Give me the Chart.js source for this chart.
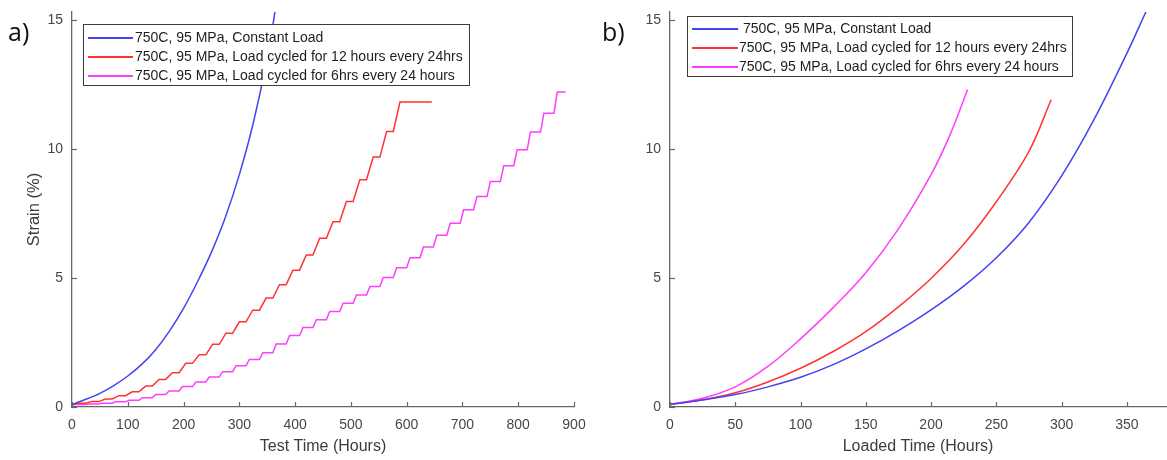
<!DOCTYPE html>
<html>
<head>
<meta charset="utf-8">
<script src="https://cdn.jsdelivr.net/npm/chart.js@4.4.1/dist/chart.umd.min.js"></script>
<style>
html,body{margin:0;padding:0;background:#fff;width:1167px;height:460px;overflow:hidden;font-family:"Liberation Sans",Arial,sans-serif;}
.wrap{position:absolute;top:0;height:460px;}
.panel{position:absolute;font-family:"Open Sans",sans-serif;font-size:25px;line-height:25px;color:#111;}
.legend{position:absolute;background:#fff;border:1px solid #3c3c3c;box-sizing:border-box;}
.row{position:absolute;left:0;height:19px;line-height:19px;white-space:pre;font-size:14px;color:#1e1e1e;}
.ln{position:absolute;top:9px;height:2px;}
.tx{position:absolute;top:0;}
</style>
</head>
<body>
<div class="wrap" style="left:0;width:600px;"><canvas id="chartA" width="600" height="460"></canvas></div>
<div class="wrap" style="left:600px;width:567px;"><canvas id="chartB" width="567" height="460"></canvas></div>
<div class="panel" style="left:8px;top:19px;">a)</div>
<div class="panel" style="left:602px;top:19px;">b)</div>
<div id="legA" class="legend" style="left:83px;top:24px;width:387px;height:62px;"></div>
<div id="legB" class="legend" style="left:687px;top:16px;width:386px;height:61px;"></div>
<script>
// ---------- DATA ----------
const seriesLabels = [
  "750C, 95 MPa, Constant Load",
  "750C, 95 MPa, Load cycled for 12 hours every 24hrs",
  "750C, 95 MPa, Load cycled for 6hrs every 24 hours"
];
const seriesColors = ["#4343f4", "#ff3333", "#ff3dff"];

const xTitleA = "Test Time (Hours)";
const xTitleB = "Loaded Time (Hours)";
const yTitle = "Strain (%)";
const yTicksShown = [0, 5, 10, 15];
const xTicksA = [0, 100, 200, 300, 400, 500, 600, 700, 800, 900];
const xTicksB = [0, 50, 100, 150, 200, 250, 300, 350];

// Panel a) : strain vs test time
const constTimeA = [0, 25, 50, 75, 100, 125, 150, 175, 200, 225, 250, 275, 300, 325, 350, 365];
const constStrainA = [0.10, 0.30, 0.53, 0.83, 1.20, 1.65, 2.22, 2.95, 3.82, 4.85, 6.00, 7.35, 9.00, 11.00, 13.50, 15.45];

const cyc12TimeA = [0, 12, 24, 36, 48, 60, 72, 84, 96, 108, 120, 132, 144, 156, 168, 180, 192, 204, 216, 228, 240,
  252, 264, 276, 288, 300, 312, 324, 336, 348, 360, 372, 384, 396, 408, 420, 432, 444, 456, 468, 480,
  492, 504, 516, 528, 540, 552, 564, 576, 588, 645];
const cyc12StrainA = [0.10, 0.15, 0.15, 0.21, 0.21, 0.31, 0.31, 0.44, 0.44, 0.59, 0.59, 0.81, 0.81, 1.07, 1.07,
  1.33, 1.33, 1.69, 1.69, 2.02, 2.02, 2.43, 2.43, 2.86, 2.86, 3.30, 3.30, 3.75, 3.75, 4.22, 4.22, 4.74, 4.74,
  5.30, 5.30, 5.89, 5.89, 6.54, 6.54, 7.18, 7.18, 7.96, 7.96, 8.80, 8.80, 9.68, 9.68, 10.67, 10.67, 11.81, 11.81];

const cyc6TimeA = [0, 6, 24, 30, 48, 54, 72, 78, 96, 102, 120, 126, 144, 150, 168, 174, 192, 198, 216, 222, 240, 246,
  264, 270, 288, 294, 312, 318, 336, 342, 360, 366, 384, 390, 408, 414, 432, 438, 456, 462, 480, 486, 504, 510,
  528, 534, 552, 558, 576, 582, 600, 606, 624, 630, 648, 654, 672, 678, 696, 702, 720, 726, 744, 750, 768, 774,
  792, 798, 816, 822, 840, 846, 864, 870, 885];
const cyc6StrainA = [0.08, 0.10, 0.10, 0.12, 0.12, 0.15, 0.15, 0.20, 0.20, 0.26, 0.26, 0.36, 0.36, 0.48, 0.48,
  0.62, 0.62, 0.79, 0.79, 0.97, 0.97, 1.16, 1.16, 1.37, 1.37, 1.60, 1.60, 1.84, 1.84, 2.10, 2.10, 2.44, 2.44,
  2.77, 2.77, 3.08, 3.08, 3.38, 3.38, 3.70, 3.70, 4.02, 4.02, 4.34, 4.34, 4.67, 4.67, 5.02, 5.02, 5.39, 5.39,
  5.78, 5.78, 6.20, 6.20, 6.65, 6.65, 7.12, 7.12, 7.64, 7.64, 8.15, 8.15, 8.73, 8.73, 9.34, 9.34, 9.96, 9.96,
  10.65, 10.65, 11.38, 11.38, 12.20, 12.20];

// Panel b) : strain vs loaded time
const constTimeB = [0, 25, 50, 75, 100, 125, 150, 175, 200, 225, 250, 275, 300, 325, 350, 365];
const constStrainB = [0.10, 0.27, 0.48, 0.78, 1.15, 1.64, 2.25, 2.96, 3.76, 4.68, 5.78, 7.15, 8.95, 11.15, 13.70, 15.35];

const cyc12TimeB = [0, 25, 50, 75, 100, 125, 150, 175, 200, 225, 250, 275, 292];
const cyc12StrainB = [0.10, 0.28, 0.55, 0.97, 1.50, 2.15, 2.92, 3.88, 4.98, 6.30, 7.95, 9.90, 11.90];

const cyc6TimeB = [0, 25, 50, 75, 100, 125, 150, 175, 200, 215, 228];
const cyc6StrainB = [0.10, 0.34, 0.78, 1.57, 2.64, 3.85, 5.20, 6.90, 9.00, 10.60, 12.30];

// ---------- HELPERS ----------
const AXIS = "#666666";
const LABEL = "#474747";
const pts = (xs, ys) => xs.map((x, i) => ({x: x, y: ys[i]}));

function ds(i, data, smooth) {
  return {
    label: seriesLabels[i], data: data, borderColor: seriesColors[i], backgroundColor: seriesColors[i],
    borderWidth: 1.5, pointRadius: 0, fill: false,
    tension: smooth ? 0.35 : 0, cubicInterpolationMode: 'default'
  };
}

const inwardTicks = {
  id: 'inwardTicks',
  afterDraw(chart) {
    const {ctx, chartArea, scales} = chart;
    const x = scales.x, y = scales.y;
    ctx.save();
    ctx.strokeStyle = AXIS; ctx.lineWidth = 1.2;
    x.ticks.forEach(t => {
      const p = Math.round(x.getPixelForValue(t.value)) + 0.5;
      ctx.beginPath(); ctx.moveTo(p, chartArea.bottom); ctx.lineTo(p, chartArea.bottom - 5); ctx.stroke();
    });
    y.ticks.forEach(t => {
      const p = Math.round(y.getPixelForValue(t.value)) + 0.5;
      ctx.beginPath(); ctx.moveTo(chartArea.left, p); ctx.lineTo(chartArea.left + 5, p); ctx.stroke();
    });
    ctx.restore();
  }
};

function makeChart(id, datasets, xMax, xTicks, xTitle, showYTitle, plotLeft, rightPad) {
  return new Chart(document.getElementById(id), {
    type: 'line',
    data: {datasets: datasets},
    options: {
      responsive: false, animation: false,
      layout: {padding: {top: 12, right: rightPad, left: 0, bottom: 0}},
      plugins: {legend: {display: false}, tooltip: {enabled: false}},
      scales: {
        x: {
          type: 'linear', min: 0, max: xMax,
          afterBuildTicks: s => { s.ticks = xTicks.map(v => ({value: v})); },
          afterFit: s => { s.height = 53; s.paddingLeft = 0; s.paddingRight = 0; },
          grid: {display: false, drawTicks: false},
          border: {display: true, color: AXIS, width: 1.3},
          ticks: {padding: 10, color: LABEL, maxRotation: 0, autoSkip: false,
                  font: {family: "'Liberation Sans', Arial, sans-serif", size: 14}},
          title: {display: true, text: xTitle, color: "#3c3c3c", padding: {top: 0, bottom: 4},
                  font: {family: "'Liberation Sans', Arial, sans-serif", size: 16}}
        },
        y: {
          type: 'linear', min: 0, max: 15.3,
          afterBuildTicks: s => { s.ticks = yTicksShown.map(v => ({value: v})); },
          afterFit: s => { s.width = plotLeft; s.paddingTop = 0; s.paddingBottom = 0; },
          grid: {display: false, drawTicks: false},
          border: {display: true, color: AXIS, width: 1.3},
          ticks: {padding: 9, color: LABEL,
                  font: {family: "'Liberation Sans', Arial, sans-serif", size: 14}},
          title: {display: showYTitle, text: yTitle, color: "#3c3c3c", padding: {top: 25, bottom: 0},
                  font: {family: "'Liberation Sans', Arial, sans-serif", size: 16.5}}
        }
      }
    },
    plugins: [inwardTicks]
  });
}

const chartA = makeChart('chartA', [
  ds(0, pts(constTimeA, constStrainA), true),
  ds(1, pts(cyc12TimeA, cyc12StrainA), false),
  ds(2, pts(cyc6TimeA, cyc6StrainA), false)
], 900, xTicksA, xTitleA, true, 72, 26);

const chartB = makeChart('chartB', [
  ds(0, pts(constTimeB, constStrainB), true),
  ds(1, pts(cyc12TimeB, cyc12StrainB), true),
  ds(2, pts(cyc6TimeB, cyc6StrainB), true)
], 380, xTicksB, xTitleB, false, 70, 1);

// ---------- LEGENDS (HTML, from dataset labels) ----------
function buildLegend(elId, chart, rowTops, lineX0, lineX1, textXs, lead) {
  const el = document.getElementById(elId);
  chart.data.datasets.forEach((d, i) => {
    const row = document.createElement('div');
    row.className = 'row';
    row.style.top = rowTops[i] + 'px';
    const ln = document.createElement('div');
    ln.className = 'ln';
    ln.style.left = lineX0 + 'px';
    ln.style.width = (lineX1 - lineX0) + 'px';
    ln.style.background = d.borderColor;
    const tx = document.createElement('span');
    tx.className = 'tx';
    tx.style.left = textXs[i] + 'px';
    tx.textContent = (lead[i] || '') + d.label;
    row.appendChild(ln); row.appendChild(tx);
    el.appendChild(row);
  });
}
buildLegend('legA', chartA, [3, 22, 41], 4, 49, [51, 51, 51], ['', '', '']);
buildLegend('legB', chartB, [2, 21, 40], 4, 50, [51, 51, 51], [' ', '', '']);
</script>
</body>
</html>
